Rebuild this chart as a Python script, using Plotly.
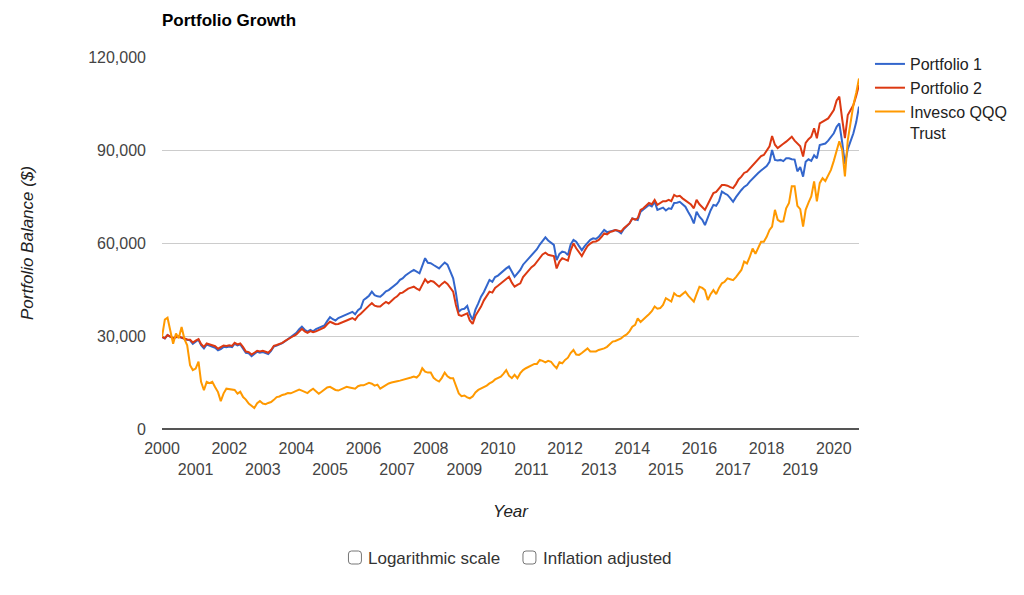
import pandas as pd
import plotly.graph_objects as go

# ---------------- data (monthly balances, thousands of $) ----------------
portfolio_1 = [
    29.7, 29.2, 30.3, 29.6, 29.2, 29.6, 29.8, 29.4, 29.0, 28.8, 28.6, 27.5,  # 2000
    28.2, 28.8, 27.0, 26.0, 27.2, 26.9, 26.7, 26.2, 25.4, 25.8, 26.5, 26.4,  # 2001
    26.6, 26.4, 27.5, 27.0, 27.3, 26.0, 24.6, 24.4, 23.5, 24.2, 24.9, 24.6,  # 2002
    24.8, 24.5, 24.2, 25.2, 26.6, 26.9, 27.2, 27.7, 28.3, 29.0, 29.6, 30.3,  # 2003
    31.0, 32.2, 33.0, 32.0, 31.4, 32.0, 31.5, 32.2, 32.6, 33.0, 33.4, 34.8,  # 2004
    36.1, 35.4, 35.0, 35.8, 36.2, 36.5, 37.0, 37.4, 37.8, 37.0, 38.3, 39.0,  # 2005
    41.6, 42.3, 43.0, 44.3, 43.2, 42.8, 42.7, 43.5, 44.4, 44.8, 45.6, 46.1,  # 2006
    47.0, 48.1, 48.6, 49.5, 50.2, 50.8, 51.3, 50.6, 50.2, 52.6, 55.1, 53.6,  # 2007
    53.5, 52.9, 52.4, 51.8, 52.8, 53.7, 53.0, 50.5, 48.6, 43.9, 37.8, 38.6,  # 2008
    38.8, 39.7, 37.0, 35.2, 38.5, 40.5, 42.7, 44.2, 46.0, 48.1, 47.5, 49.0,  # 2009
    49.5, 50.4, 51.0, 51.8, 52.4, 50.5, 49.1, 50.2, 51.3, 53.0, 54.0, 55.1,  # 2010
    56.0, 57.2, 58.0, 59.5, 60.5, 61.8, 60.8, 60.0, 59.4, 54.5, 56.5, 57.2,  # 2011
    57.0, 56.1, 59.5, 61.0, 60.4, 59.0, 57.7, 59.0, 60.2, 61.0, 61.5, 61.3,  # 2012
    62.0, 63.0, 64.2, 63.5, 63.8, 64.0, 64.2, 63.8, 63.1, 64.5, 65.5, 66.3,  # 2013
    67.9, 67.6, 67.4, 70.1, 70.8, 71.5, 72.3, 71.8, 73.3, 70.7, 71.0, 71.4,  # 2014
    70.5, 71.2, 71.0, 72.9, 73.0, 73.3, 72.5, 71.7, 70.0, 68.5, 66.3, 70.1,  # 2015
    68.5, 67.5, 65.8, 68.5, 70.5, 72.3, 72.0, 73.5, 76.6, 76.0, 75.5, 74.5,  # 2016
    73.3, 74.8, 76.0, 77.1, 78.1, 78.7, 79.8, 80.8, 81.6, 82.6, 83.4, 84.1,  # 2017
    84.8, 86.2, 90.0, 86.8, 86.6, 86.8, 86.4, 87.3, 87.3, 87.0, 86.9, 83.1,  # 2018
    84.5, 81.4, 86.2, 87.0, 86.5, 88.3, 87.3, 91.6, 91.8, 92.1, 93.0, 94.2,  # 2019
    95.4, 97.5, 98.6, 92.5, 85.5, 90.3, 92.5, 95.4, 99.0, 104.0,             # 2020
]

portfolio_2 = [
    29.7, 29.3, 30.3, 29.7, 29.3, 29.7, 29.9, 29.5, 29.1, 28.9, 28.8, 27.9,  # 2000
    28.5, 29.0, 27.4, 26.5, 27.6, 27.3, 27.2, 26.7, 25.9, 26.3, 26.9, 26.8,  # 2001
    27.0, 26.8, 27.8, 27.3, 27.6, 26.4, 25.0, 24.8, 24.0, 24.6, 25.2, 25.0,  # 2002
    25.2, 24.9, 24.6, 25.5, 26.8, 27.1, 27.4, 27.8, 28.4, 29.0, 29.6, 30.0,  # 2003
    30.5, 31.5, 32.3, 31.5, 31.0, 31.6, 31.2, 31.5, 31.9, 32.3, 32.8, 33.8,  # 2004
    34.6, 34.2, 33.8, 33.9, 34.2, 34.5, 35.0, 35.4, 35.8, 35.2, 36.5, 37.2,  # 2005
    38.2, 39.0, 39.8, 40.6, 39.8, 39.5, 39.5, 40.3, 41.0, 40.5, 41.4, 42.2,  # 2006
    42.8, 43.8, 44.0, 44.8, 45.3, 45.6, 45.9, 45.3, 44.8, 46.5, 48.3, 47.2,  # 2007
    47.8, 47.5, 46.8, 45.9, 46.8, 47.5, 46.8, 45.5, 44.3, 40.0, 36.8, 36.5,  # 2008
    36.8, 37.3, 35.0, 33.9, 36.5, 38.0, 39.5, 41.5, 42.8, 44.3, 44.0, 45.5,  # 2009
    46.2, 47.0, 47.8, 48.5, 49.1, 47.2, 45.9, 46.5, 47.0, 49.0, 50.0, 51.3,  # 2010
    52.2, 52.9, 54.0, 55.5, 56.3, 56.9, 56.2, 56.0, 55.8, 51.8, 54.0, 55.1,  # 2011
    54.8, 54.3, 57.5, 59.9, 58.3, 57.0, 55.8, 57.5, 59.0, 59.8, 60.4, 60.5,  # 2012
    61.0, 62.0, 63.1, 62.8, 63.5, 63.8, 64.2, 64.0, 63.7, 64.8, 65.5, 66.3,  # 2013
    67.9, 67.5, 68.0, 70.7, 71.2, 72.0, 72.9, 72.5, 73.9, 72.3, 73.0, 73.5,  # 2014
    73.5, 73.9, 73.5, 75.5, 75.0, 75.2, 74.4, 73.8, 73.0, 72.4, 71.2, 73.9,  # 2015
    72.5, 71.5, 70.7, 72.5, 74.5, 76.1, 76.5, 77.5, 78.7, 78.7, 78.5, 78.0,  # 2016
    77.7, 79.0, 80.5, 81.4, 82.6, 83.0, 84.0, 85.2, 86.0, 87.2, 88.0, 88.4,  # 2017
    89.8, 91.2, 94.5, 91.7, 90.6, 91.2, 92.0, 92.7, 93.5, 94.3, 93.0, 92.0,  # 2018
    91.2, 87.9, 92.3, 93.5, 94.3, 97.0, 93.8, 98.6, 99.2, 99.8, 100.2, 101.5,  # 2019
    102.9, 106.0, 107.2, 100.0, 93.8, 101.3, 103.0, 104.5, 107.5, 111.0,     # 2020
]

invesco_qqq = [
    29.7, 35.3, 35.9, 31.0, 27.5, 30.8, 29.3, 32.9, 29.0, 27.0, 20.6, 19.0,  # 2000
    19.5, 21.7, 15.2, 12.5, 15.2, 14.8, 15.2, 13.5, 11.9, 9.0, 11.5, 13.0,   # 2001
    12.9, 12.8, 12.6, 11.4, 12.0, 10.3, 9.5, 8.2, 7.4, 6.8, 8.3, 9.0,        # 2002
    8.2, 8.0, 8.4, 8.7, 9.4, 10.3, 10.5, 11.0, 11.2, 11.6, 11.5, 11.9,       # 2003
    12.2, 12.7, 12.4, 12.0, 11.6, 12.4, 13.0, 12.2, 11.4, 12.0, 12.8, 13.4,  # 2004
    13.6, 13.0, 12.6, 12.4, 12.8, 13.2, 13.6, 13.4, 13.3, 13.0, 13.8, 14.1,  # 2005
    14.1, 14.4, 14.9, 14.6, 14.0, 14.3, 13.0, 13.6, 14.3, 14.7, 15.0, 15.3,  # 2006
    15.4, 15.6, 15.8, 16.0, 16.4, 16.6, 16.9, 16.6, 17.5, 19.6, 18.5, 18.2,  # 2007
    18.2, 16.5, 15.8, 15.3, 16.5, 18.2, 17.0, 16.4, 16.4, 14.0, 11.5, 10.6,  # 2008
    10.8, 10.2, 9.9, 10.5, 11.8, 12.6, 13.0, 13.5, 14.0, 14.7, 15.2, 16.0,   # 2009
    16.5, 16.9, 17.8, 19.0, 17.2, 16.4, 17.5, 16.4, 18.0, 19.0, 19.6, 20.0,  # 2010
    20.5, 21.0, 21.0, 22.3, 22.0, 21.5, 22.0, 21.7, 20.5, 19.6, 21.5, 21.2,  # 2011
    22.3, 23.0, 24.5, 25.5, 24.0, 23.9, 24.5, 25.2, 26.0, 25.0, 24.9, 25.0,  # 2012
    25.5, 25.7, 26.0, 26.5, 27.3, 28.2, 28.4, 28.7, 29.2, 30.0, 30.5, 31.5,  # 2013
    33.0, 33.6, 35.7, 34.5, 35.5, 36.2, 37.0, 38.0, 39.5, 38.8, 39.0, 40.0,  # 2014
    42.2, 41.5, 41.1, 43.8, 43.0, 42.8, 43.5, 44.3, 43.0, 42.0, 41.1, 43.5,  # 2015
    45.9, 45.5, 44.8, 41.6, 43.5, 44.8, 43.5, 45.5, 47.0, 47.5, 48.6, 48.3,  # 2016
    48.0, 49.0, 50.0, 51.3, 54.0, 53.4, 55.5, 58.2, 56.5, 58.5, 60.4, 60.4,  # 2017
    62.0, 64.2, 65.3, 70.7, 67.5, 66.9, 67.0, 71.2, 72.9, 78.3, 78.3, 72.0,  # 2018
    70.9, 65.3, 70.7, 73.0, 75.0, 79.9, 73.4, 79.3, 80.9, 80.0, 82.0, 83.6,  # 2019
    86.5, 90.0, 92.8, 90.0, 81.5, 93.2, 99.0, 104.5, 108.5, 113.1,           # 2020
]

series_names = ["Portfolio 1", "Portfolio 2", "Invesco QQQ<br>Trust"]
series_colors = ["#3366cc", "#dc3912", "#ff9900"]
start_month = "2000-01-01"
unit = 1000  # values above are in thousands of dollars

y_ticks = [0, 30000, 60000, 90000, 120000]
even_years = list(range(2000, 2021, 2))
odd_years = list(range(2001, 2020, 2))

dates = pd.date_range(start_month, periods=len(portfolio_1), freq="MS")

# ---------------- figure (page body adds an 8px offset) ----------------
W, H = 1016, 587
L, R, T, B = 154, 853, 49, 421
FONT = "Arial, Liberation Sans, Helvetica, sans-serif"

fig = go.Figure()
for vals, name, col in zip([portfolio_1, portfolio_2, invesco_qqq], series_names, series_colors):
    fig.add_trace(go.Scatter(
        x=dates, y=[v * unit for v in vals], mode="lines", name=name,
        line=dict(color=col, width=2),
        hovertemplate="%{x|%b %Y}: $%{y:,.0f}<extra>" + name.replace("<br>", " ") + "</extra>",
    ))
# empty trace so that the second (odd-year) axis is drawn
fig.add_trace(go.Scatter(x=[], y=[], xaxis="x2", showlegend=False, hoverinfo="skip"))

xrange = [dates[0], dates[-1]]
tick_font = dict(family=FONT, size=16, color="#444")
title_font = dict(family=FONT, size=17, color="#222")

fig.update_layout(
    width=W, height=H,
    margin=dict(l=L, r=W - R, t=T, b=H - B, pad=0),
    paper_bgcolor="white", plot_bgcolor="white",
    font=dict(family=FONT, size=16, color="#222"),
    title=dict(text="<b>Portfolio Growth</b>", xref="container", yref="container",
               x=L / W, xanchor="left", y=1 - 12 / H, yanchor="middle",
               font=dict(family=FONT, size=17, color="#000")),
    xaxis=dict(type="date", range=xrange,
               tickvals=[f"{y}-01-01" for y in even_years],
               ticktext=[str(y) for y in even_years],
               showgrid=False, zeroline=False, showline=False,
               ticks="outside", ticklen=5, tickcolor="rgba(0,0,0,0)",
               tickfont=tick_font),
    xaxis2=dict(type="date", range=xrange, overlaying="x", anchor="y", side="bottom",
                tickvals=[f"{y}-01-01" for y in odd_years],
                ticktext=[str(y) for y in odd_years],
                showgrid=False, zeroline=False, showline=False,
                ticks="outside", ticklen=26, tickcolor="rgba(0,0,0,0)",
                tickfont=tick_font,
                title=dict(text="<i>Year</i>", standoff=27, font=title_font)),
    yaxis=dict(range=[0, 120000], tickvals=y_ticks, tickformat=",",
               showgrid=True, gridcolor="#cccccc", gridwidth=1,
               zeroline=True, zerolinecolor="#555555", zerolinewidth=1.5,
               showline=False, ticks="", ticklabelstandoff=15,
               tickfont=tick_font,
               title=dict(text="<i>Portfolio Balance ($)</i>", standoff=50, font=title_font)),
    legend=dict(x=(864 - L) / (R - L), xanchor="left", y=1 + 10 / (B - T), yanchor="top",
                font=dict(family=FONT, size=16, color="#222"),
                valign="top", bgcolor="rgba(0,0,0,0)", tracegroupgap=0),
    hovermode="closest",
)

# ---------------- checkbox controls under the chart ----------------
def px(xp):
    return (xp - L) / (R - L)

def py(yp):
    return (B - yp) / (B - T)

for bx, label in [(341, "Logarithmic scale"), (516, "Inflation adjusted")]:
    x0, x1, y0, y1 = bx, bx + 13, 543, 556
    r = 3
    path = (f"M {px(x0 + r)} {py(y0)} L {px(x1 - r)} {py(y0)} "
            f"Q {px(x1)} {py(y0)} {px(x1)} {py(y0 + r)} L {px(x1)} {py(y1 - r)} "
            f"Q {px(x1)} {py(y1)} {px(x1 - r)} {py(y1)} L {px(x0 + r)} {py(y1)} "
            f"Q {px(x0)} {py(y1)} {px(x0)} {py(y1 - r)} L {px(x0)} {py(y0 + r)} "
            f"Q {px(x0)} {py(y0)} {px(x0 + r)} {py(y0)} Z")
    fig.add_shape(type="path", path=path, xref="paper", yref="paper",
                  line=dict(color="#767676", width=1), fillcolor="white")
    fig.add_annotation(text=label, xref="paper", yref="paper",
                       x=px(bx + 18), y=py(550), xanchor="left", yanchor="middle",
                       showarrow=False,
                       font=dict(family=FONT, size=17, color="#333"))

fig.write_html("out.html")
